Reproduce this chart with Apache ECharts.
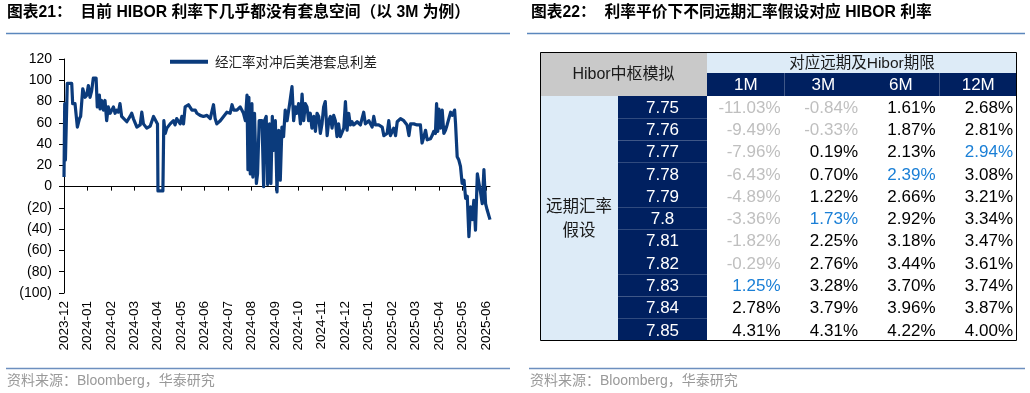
<!DOCTYPE html>
<html><head><meta charset="utf-8">
<script src="https://cdn.jsdelivr.net/npm/echarts@6/dist/echarts.min.js"></script>
<style>html,body{margin:0;padding:0;background:#fff}#c{width:1030px;height:393px}</style>
</head><body><div id="c"></div>
<script>
// ---------- Left chart data ----------
const monthLabels = ['2023-12','2024-01','2024-02','2024-03','2024-04','2024-05','2024-06','2024-07','2024-08','2024-09','2024-10','2024-11','2024-12','2025-01','2025-02','2025-03','2025-04','2025-05','2025-06'];
const seriesName = '经汇率对冲后美港套息利差';
// position in months since 2023-12
const pos = [0.00,0.03,0.06,0.11,0.14,0.33,0.37,0.47,0.57,0.66,0.71,0.80,0.90,0.97,1.04,1.11,1.18,1.25,1.37,1.42,1.51,1.54,1.61,1.68,1.75,1.82,1.89,1.97,2.11,2.18,2.25,2.32,2.39,2.46,2.54,2.68,2.82,2.89,2.96,3.11,3.25,3.32,3.39,3.53,3.68,3.82,3.89,3.99,4.01,4.22,4.26,4.32,4.39,4.53,4.67,4.74,4.81,4.96,5.03,5.10,5.17,5.31,5.46,5.60,5.67,5.81,5.95,6.10,6.24,6.38,6.45,6.52,6.67,6.81,6.95,7.09,7.17,7.24,7.38,7.52,7.66,7.74,7.81,7.85,7.89,7.95,8.02,8.06,8.13,8.21,8.26,8.33,8.45,8.52,8.56,8.63,8.69,8.77,8.83,8.89,8.95,9.02,9.09,9.16,9.23,9.30,9.37,9.44,9.52,9.63,9.73,9.80,9.87,9.94,10.01,10.09,10.16,10.23,10.30,10.37,10.44,10.51,10.58,10.66,10.73,10.80,10.87,10.94,11.01,11.08,11.15,11.23,11.30,11.37,11.44,11.51,11.58,11.65,11.72,11.79,11.94,12.01,12.08,12.15,12.22,12.29,12.36,12.51,12.65,12.79,12.86,13.01,13.15,13.22,13.29,13.43,13.58,13.65,13.79,13.86,13.93,14.07,14.15,14.22,14.36,14.50,14.64,14.72,14.79,14.86,14.93,15.07,15.21,15.28,15.36,15.43,15.50,15.64,15.71,15.78,15.85,15.90,15.95,16.00,16.07,16.14,16.21,16.28,16.35,16.42,16.50,16.57,16.67,16.71,16.78,16.85,16.92,16.99,17.07,17.14,17.21,17.28,17.35,17.42,17.49,17.56,17.64,17.71,17.78,17.85,17.92,17.95,17.99,18.06,18.13,18.18];
const spread = [9,78,25,25,97,97,78,78,56,64,66,92,84,86,95,84,90,102,102,75,86,73,81,72,81,62,75,69,75,69,72,70,78,66,65,61,66,69,64,56,58,70,59,55,57,66,66,59,-4,-4,62,50,55,59,62,58,64,59,66,59,75,77,72,72,69,67,66,67,64,77,64,59,62,66,70,69,77,72,72,75,69,62,86,16,84,12,78,9,69,3,12,62,62,0,62,66,2,59,3,66,34,62,-5,53,6,56,47,72,62,78,94,62,75,69,78,59,87,62,78,75,62,69,55,66,52,69,66,50,59,75,80,48,62,66,55,67,62,47,59,47,55,80,53,69,58,61,58,61,58,70,59,62,56,66,58,58,56,48,50,62,48,55,48,61,64,62,58,48,59,58,59,58,58,41,47,53,44,45,48,52,50,78,52,73,55,72,50,53,58,59,70,67,72,59,28,25,19,3,6,-11,-9,-47,-19,-31,-13,-41,12,12,-6,-16,16,16,-16,-22,-22,-31];
const yTicks = {min:-100, max:120, interval:20};

// ---------- Right table data ----------
const fxRates = ['7.75','7.76','7.77','7.78','7.79','7.8','7.81','7.82','7.83','7.84','7.85'];
const tenors = ['1M','3M','6M','12M'];
const hibor1M = [-11.03,-9.49,-7.96,-6.43,-4.89,-3.36,-1.82,-0.29,1.25,2.78,4.31];
const hibor3M = [-0.84,-0.33,0.19,0.70,1.22,1.73,2.25,2.76,3.28,3.79,4.31];
const hibor6M = [1.61,1.87,2.13,2.39,2.66,2.92,3.18,3.44,3.70,3.96,4.22];
const hibor12M = [2.68,2.81,2.94,3.08,3.21,3.34,3.47,3.61,3.74,3.87,4.00];
const highlightRow = [8,5,3,2];
const headerLeft = 'Hibor中枢模拟';
const headerTop = '对应远期及Hibor期限';
const sideLabel = '远期汇率\n假设';

// ---------- table layout (grid units = px of the table) ----------
const colE = [0,78,167,244.5,322,399.5,477];
const TW = 477, TH = 289, H1 = 21, H2 = 44, RH = (TH - H2) / fxRates.length;
const NAVY = '#002060', LBLUE = '#ddebf7', GRAY = '#c9c9c9', HL = '#1a7fd6', NEG = '#bfbfbf';
const cells = [];
cells.push({x0:0,x1:colE[2],y0:0,y1:H2,fill:GRAY,text:headerLeft,color:'#1a1a1a',size:16,align:'center'});
cells.push({x0:colE[2],x1:TW,y0:0,y1:H1,fill:LBLUE,text:headerTop,color:'#1a1a1a',size:15.5,align:'center'});
tenors.forEach((t,j)=>cells.push({x0:colE[j+2],x1:colE[j+3],y0:H1,y1:H2,fill:NAVY,text:t,color:'#fff',size:17,align:'center'}));
cells.push({x0:0,x1:colE[1],y0:H2,y1:TH,fill:LBLUE,text:sideLabel,color:'#1a1a1a',size:16.5,align:'center',lh:24});
fxRates.forEach((r,i)=>cells.push({x0:colE[1],x1:colE[2],y0:H2+i*RH,y1:H2+(i+1)*RH,fill:NAVY,text:r,color:'#fff',size:17,align:'center'}));
[hibor1M,hibor3M,hibor6M,hibor12M].forEach((col,j)=>col.forEach((v,i)=>cells.push({
  x0:colE[j+2],x1:colE[j+3],y0:H2+i*RH,y1:H2+(i+1)*RH,fill:'#fff',
  text:v.toFixed(2)+'%',
  color: v<0 ? NEG : (i===highlightRow[j] ? HL : '#000'),
  size:17,align:'right'})));
cells.push({x0:0,x1:TW,y0:0,y1:TH,fill:null,stroke:'#000'});

const FONT = "'Liberation Sans','Noto Sans CJK SC',sans-serif";
const chart = echarts.init(document.getElementById('c'), null, {renderer:'canvas'});
const tickVals = monthLabels.map((_,i)=>i);

chart.setOption({
  animation:false,
  backgroundColor:'#fff',
  title:[
    {text:'图表21：  目前 HIBOR 利率下几乎都没有套息空间（以 3M 为例）',left:7,top:5,padding:0,
     textStyle:{fontSize:15.75,fontWeight:'bold',color:'#000',fontFamily:FONT}},
    {text:'图表22：  利率平价下不同远期汇率假设对应 HIBOR 利率',left:531,top:5,padding:0,
     textStyle:{fontSize:15.75,fontWeight:'bold',color:'#000',fontFamily:FONT}},
    {text:'资料来源：Bloomberg，华泰研究',left:7,top:374,padding:0,
     textStyle:{fontSize:14,fontWeight:'normal',color:'#999',fontFamily:FONT}},
    {text:'资料来源：Bloomberg，华泰研究',left:530,top:374,padding:0,
     textStyle:{fontSize:14,fontWeight:'normal',color:'#999',fontFamily:FONT}}
  ],
  graphic:[
    {type:'line',shape:{x1:6,y1:33.5,x2:510,y2:33.5},style:{stroke:'#5b87bd',lineWidth:1.5}},
    {type:'line',shape:{x1:527,y1:33.5,x2:1025,y2:33.5},style:{stroke:'#5b87bd',lineWidth:1.5}},
    {type:'line',shape:{x1:6,y1:368.5,x2:510,y2:368.5},style:{stroke:'#6d8fbf',lineWidth:1.5}},
    {type:'line',shape:{x1:529,y1:368.5,x2:1025,y2:368.5},style:{stroke:'#6d8fbf',lineWidth:1.5}}
  ],
  legend:{
    data:[seriesName],left:165,top:50,icon:'rect',itemWidth:38,itemHeight:4,
    textStyle:{fontSize:13.5,color:'#222',fontFamily:"'Noto Sans CJK SC',sans-serif",padding:[0,0,0,2]}
  },
  grid:[
    {left:64,top:59,width:426,height:234},
    {left:540,top:52,width:TW,height:TH}
  ],
  xAxis:[
    {type:'value',gridIndex:0,min:0,max:18.18,position:'bottom',
     axisLine:{show:false,onZero:false},axisTick:{show:false},splitLine:{show:false},
     axisLabel:{show:true,customValues:tickVals,rotate:90,margin:8,fontSize:13.5,color:'#000',fontFamily:FONT,
       formatter:v=>Number.isInteger(v)&&monthLabels[v]?monthLabels[v]:''}},
    {type:'value',gridIndex:0,min:0,max:18.18,position:'bottom',
     axisLine:{show:true,onZero:true,lineStyle:{color:'#000',width:1}},
     axisTick:{show:true,customValues:tickVals,length:4,lineStyle:{color:'#000'}},
     axisLabel:{show:false},splitLine:{show:false}},
    {type:'value',gridIndex:1,min:0,max:TW,show:false}
  ],
  yAxis:[
    {type:'value',gridIndex:0,min:yTicks.min,max:yTicks.max,interval:yTicks.interval,
     axisLine:{show:true,lineStyle:{color:'#000'}},axisTick:{show:true,length:5,lineStyle:{color:'#000'}},
     splitLine:{show:false},
     axisLabel:{margin:12,fontSize:14,color:'#000',fontFamily:FONT,formatter:v=>v<0?'('+(-v)+')':String(v)}},
    {type:'value',gridIndex:1,min:0,max:TH,inverse:true,show:false}
  ],
  series:[
    {type:'line',name:seriesName,xAxisIndex:0,yAxisIndex:0,
     data:pos.map((p,i)=>[p,spread[i]]),showSymbol:false,symbol:'none',
     lineStyle:{width:3.2,color:'#0b3b7c',join:'round'},itemStyle:{color:'#0b3b7c'}},
    {type:'custom',xAxisIndex:2,yAxisIndex:1,silent:true,clip:false,
     encode:{x:[0,1],y:[2,3]},
     data:cells.map(c=>[c.x0,c.x1,c.y0,c.y1]),
     renderItem:function(params,api){
       const c = cells[params.dataIndex];
       const p0 = api.coord([c.x0,c.y0]), p1 = api.coord([c.x1,c.y1]);
       let x = Math.min(p0[0],p1[0]), y = Math.min(p0[1],p1[1]);
       let w = Math.abs(p1[0]-p0[0]), h = Math.abs(p1[1]-p0[1]);
       const children = [];
       if (c.stroke) {
         children.push({type:'rect',shape:{x:x+0.5,y:y+0.5,width:w-1,height:h-1},style:{fill:null,stroke:c.stroke,lineWidth:1}});
       } else {
         children.push({type:'rect',shape:{x:x,y:y,width:w,height:h},style:{fill:c.fill}});
       }
       if (c.text) {
         const tx = c.align==='right' ? x+w-4 : x+w/2;
         children.push({type:'text',style:{text:c.text,x:tx,y:y+h/2+1,align:c.align,verticalAlign:'middle',
           textAlign:c.align,textVerticalAlign:'middle',fill:c.color,lineHeight:c.lh||undefined,
           font:c.size+"px 'Liberation Sans','Noto Sans CJK SC',sans-serif"}});
       }
       return {type:'group',children:children};
     }}
  ]
});
</script></body></html>
